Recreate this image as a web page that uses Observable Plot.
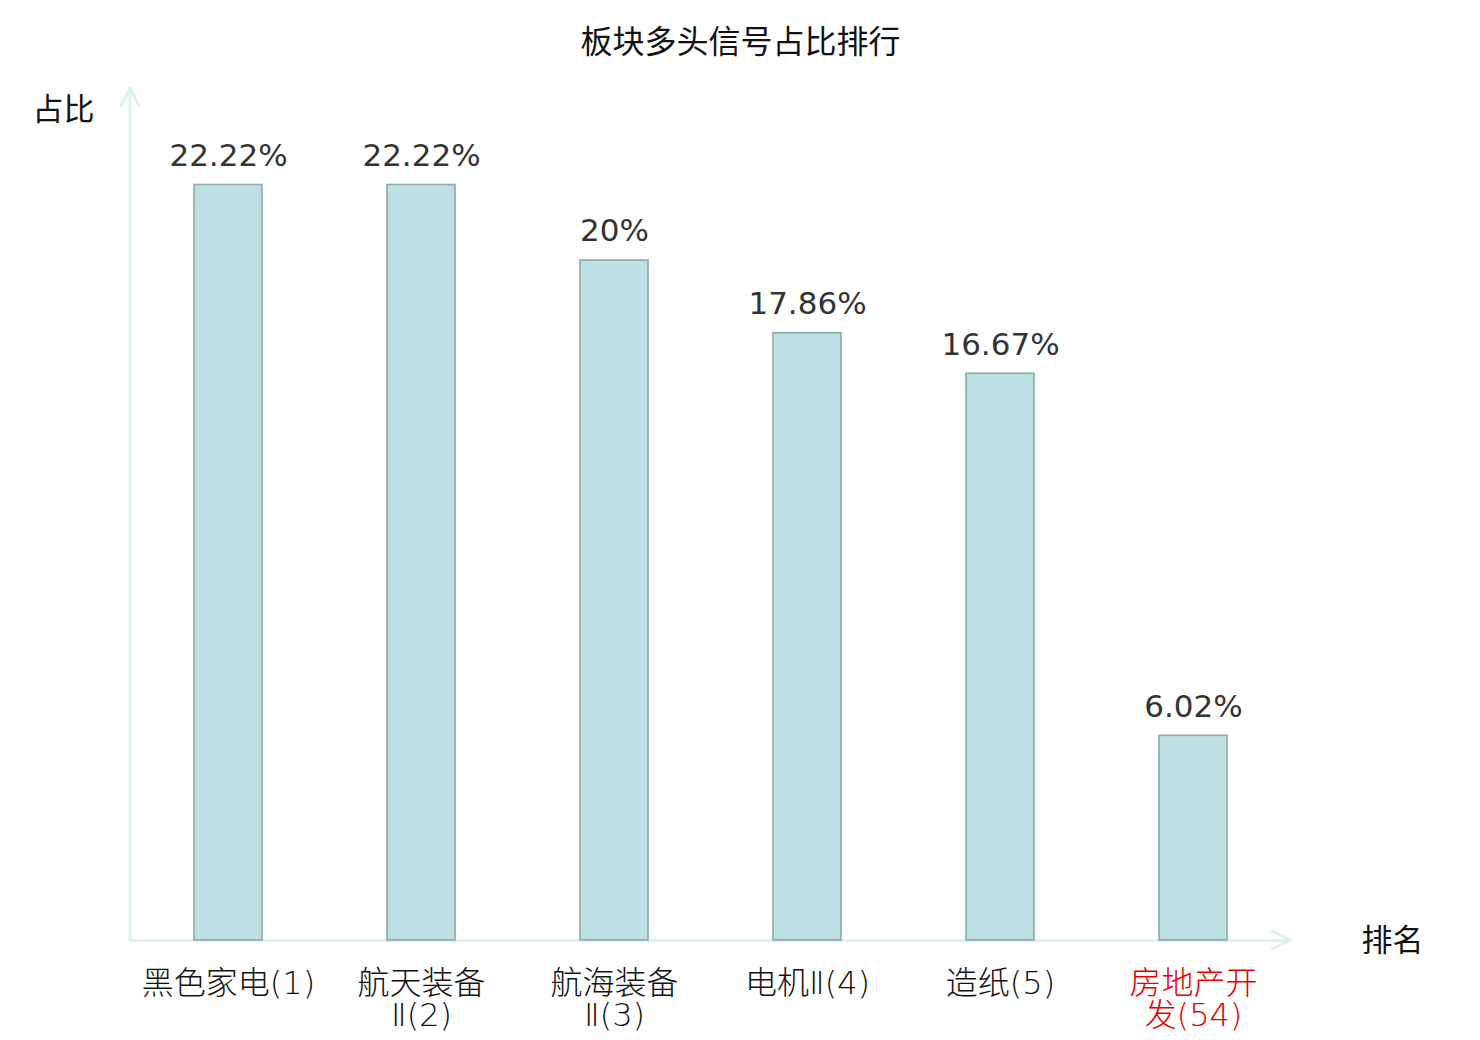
<!DOCTYPE html>
<html>
<head>
<meta charset="utf-8">
<script src="https://cdn.jsdelivr.net/npm/d3@7"></script>
<script src="https://cdn.jsdelivr.net/npm/@observablehq/plot@0.6"></script>
<style>
  html, body { margin: 0; padding: 0; background: #fff; }
  #chart { position: relative; width: 1480px; height: 1040px; }
</style>
</head>
<body>
<div id="chart"></div>
<script>
// ---- data ----
const categories = ["黑色家电(1)", "航天装备Ⅱ(2)", "航海装备Ⅱ(3)", "电机Ⅱ(4)", "造纸(5)", "房地产开发(54)"];
const tickLabels = ["黑色家电(1)", "航天装备\nⅡ(2)", "航海装备\nⅡ(3)", "电机Ⅱ(4)", "造纸(5)", "房地产开\n发(54)"];
const values = [22.22, 22.22, 20, 17.86, 16.67, 6.02];
const valueLabels = ["22.22%", "22.22%", "20%", "17.86%", "16.67%", "6.02%"];
const highlighted = ["房地产开发(54)"];
const yDomain = [0, 25];
const titleText = "板块多头信号占比排行";
const yAxisName = "占比";
const xAxisName = "排名";

const data = categories.map((c, i) => ({
  name: c, tick: tickLabels[i], value: values[i], label: valueLabels[i]
}));

const axisColor = "#dff2ef";
const cjk = "'Noto Sans CJK SC', 'Noto Sans', sans-serif";
const latin = "'DejaVu Sans', 'Noto Sans CJK SC', sans-serif";

const chart = Plot.plot({
  width: 1480,
  height: 1040,
  marginLeft: 130,
  marginRight: 190,
  marginTop: 90,
  marginBottom: 100,
  style: { fontFamily: cjk, background: "#fff", overflow: "visible" },
  x: { domain: categories, paddingInner: 0.65, paddingOuter: 0.325, align: 0.5, axis: null },
  y: { domain: yDomain, axis: null },
  marks: [
    Plot.ruleY([0], { stroke: axisColor, strokeWidth: 3 }),
    Plot.barY(data, {
      x: "name", y: "value",
      fill: "#bce0e3", stroke: "#8da9aa", strokeWidth: 1.6
    }),
    Plot.text(data, {
      x: "name", y: "value", text: "label",
      dy: -29, lineAnchor: "middle",
      fontSize: 31, fill: "#333", fontFamily: latin
    }),
    Plot.text(data, {
      x: "name", y: () => 0, text: "tick",
      dy: 31, lineAnchor: "top", lineHeight: 1.0,
      fontSize: 32, fontWeight: 200,
      fontFamily: "'DejaVu Sans', 'Noto Sans CJK SC', sans-serif",
      fill: d => highlighted.includes(d.name) ? "#e60000" : "#111"
    }),
    Plot.text([titleText], {
      frameAnchor: "top", text: d => d, dx: 30, dy: -48,
      fontSize: 32, fill: "#111", lineAnchor: "middle"
    }),
    Plot.text([yAxisName], {
      frameAnchor: "top-left", text: d => d, dx: -67, dy: 20,
      textAnchor: "middle", lineAnchor: "middle",
      fontSize: 31, fill: "#111"
    }),
    Plot.text([xAxisName], {
      frameAnchor: "bottom-right", text: d => d, dx: 102, dy: 1,
      textAnchor: "middle", lineAnchor: "middle",
      fontSize: 31, fill: "#111"
    })
  ]
});

// axis lines and arrow heads, placed from the plot's own scales
const xs = chart.scale("x");
const ys = chart.scale("y");
const x0 = xs.range[0], x1 = xs.range[1];
const yb = ys.apply(yDomain[0]), yt = ys.apply(yDomain[1]) - 2;
const svg = d3.select(chart);
const g = svg.append("g")
  .attr("fill", "none").attr("stroke", axisColor)
  .attr("stroke-width", 3).attr("stroke-linecap", "round").attr("stroke-linejoin", "round");
g.append("line").attr("x1", x0).attr("x2", x0).attr("y1", yb).attr("y2", yt);
g.append("polyline").attr("points", `${x0 - 9},${yt + 18} ${x0},${yt} ${x0 + 9},${yt + 18}`);
g.append("polyline").attr("points", `${x1 - 18},${yb - 9} ${x1},${yb} ${x1 - 18},${yb + 9}`);
// keep bars and texts above the axis lines
svg.selectAll("g[aria-label='bar']").raise();
svg.selectAll("g[aria-label='text']").raise();

document.getElementById("chart").appendChild(chart);
</script>
</body>
</html>
